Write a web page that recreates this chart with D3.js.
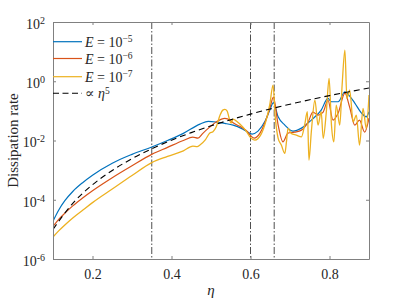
<!DOCTYPE html>
<html>
<head>
<meta charset="utf-8">
<script src="https://cdn.jsdelivr.net/npm/d3@7"></script>
<style>
  body { margin: 0; background: #fff; }
  text { font-family: "Liberation Serif", "DejaVu Serif", serif; fill: #262626; }
</style>
</head>
<body>
<div id="viz"></div>
<script>
// dissipation rate vs eta
var blueEta = [0.100, 0.115, 0.130, 0.150, 0.175, 0.200, 0.250, 0.300, 0.350, 0.390, 0.430, 0.472, 0.493, 0.514, 0.535, 0.556, 0.578, 0.591, 0.604, 0.619, 0.637, 0.649, 0.658, 0.670, 0.687, 0.708, 0.729, 0.754, 0.779, 0.796, 0.805, 0.822, 0.839, 0.851, 0.864, 0.881, 0.893, 0.900];
var blueVal = [1.9e-5, 4.62e-5, 9.28e-5, 1.9e-4, 3.77e-4, 6.72e-4, 1.71e-3, 3.4e-3, 6.04e-3, 1.0e-2, 0.0174, 0.0358, 0.0442, 0.0419, 0.0378, 0.0331, 0.0252, 0.020, 0.0165, 0.0208, 0.0452, 0.106, 0.19, 0.0632, 0.0331, 0.0208, 0.0262, 0.0489, 0.106, 0.264, 0.203, 0.203, 0.442, 0.316, 0.184, 0.0843, 0.0632, 0.0933];

var redEta = [0.100, 0.115, 0.130, 0.150, 0.175, 0.200, 0.250, 0.300, 0.350, 0.390, 0.430, 0.454, 0.467, 0.480, 0.493, 0.514, 0.535, 0.548, 0.556, 0.578, 0.591, 0.599, 0.609, 0.624, 0.639, 0.649, 0.658, 0.670, 0.682, 0.695, 0.712, 0.729, 0.746, 0.758, 0.771, 0.784, 0.796, 0.809, 0.822, 0.839, 0.851, 0.864, 0.876, 0.889, 0.900];
var redVal = [1.25e-5, 2.21e-5, 3.52e-5, 6.22e-5, 1.15e-4, 2.02e-4, 5.57e-4, 1.41e-3, 3.41e-3, 5.86e-3, 0.0100, 0.013, 0.012, 0.0178, 0.0256, 0.0428, 0.0558, 0.0489, 0.0396, 0.0277, 0.0208, 0.0152, 0.012, 0.0178, 0.0489, 0.124, 0.292, 0.0331, 9.0e-3, 0.0178, 0.0192, 0.0224, 0.0419, 0.091, 0.072, 0.091, 0.232, 0.0489, 0.0843, 0.40, 0.134, 0.0331, 0.0489, 0.0192, 0.0571];

var yellowEta = [0.100, 0.115, 0.130, 0.150, 0.175, 0.200, 0.250, 0.300, 0.350, 0.390, 0.430, 0.454, 0.465, 0.472, 0.485, 0.497, 0.505, 0.513, 0.523, 0.530, 0.535, 0.541, 0.546, 0.551, 0.556, 0.561, 0.573, 0.589, 0.599, 0.611, 0.627, 0.639, 0.649, 0.657, 0.663, 0.670, 0.678, 0.687, 0.691, 0.695, 0.703, 0.716, 0.729, 0.737, 0.744, 0.748, 0.754, 0.763, 0.771, 0.779, 0.784, 0.792, 0.799, 0.805, 0.811, 0.817, 0.826, 0.832, 0.839, 0.844, 0.851, 0.860, 0.868, 0.876, 0.885, 0.893, 0.900];
var yellowVal = [5.5e-6, 9.05e-6, 1.41e-5, 2.43e-5, 4.43e-5, 8.0e-5, 2.3e-4, 6.56e-4, 1.79e-3, 2.9e-3, 4.49e-3, 6.47e-3, 6.2e-3, 7.0e-3, 0.0103, 0.0178, 0.0197, 0.0284, 0.072, 0.106, 0.112, 0.0984, 0.0571, 0.0387, 0.0528, 0.0489, 0.0358, 0.0208, 0.013, 0.0103, 0.0164, 0.0452, 0.170, 0.745, 0.0558, 0.0118, 7.0e-3, 3.66e-3, 9.0e-3, 0.0256, 0.0174, 0.0152, 0.0133, 0.0331, 0.0933, 2.18e-3, 0.0197, 0.232, 0.0331, 0.0933, 0.0118, 0.0933, 1.25, 0.0331, 9.0e-3, 0.157, 0.0331, 0.745, 11.3, 0.264, 0.505, 0.0428, 0.072, 7.0e-3, 0.121, 0.0256, 0.342];

// reference slope line (proportional to eta^5)
var refEta = [0.10, 0.15, 0.20, 0.25, 0.30, 0.35, 0.40, 0.45, 0.50, 0.55, 0.60, 0.65, 0.70, 0.75, 0.80, 0.85, 0.90];
var refVal = [1.0e-5, 7.59e-5, 3.2e-4, 9.77e-4, 2.43e-3, 5.25e-3, 0.01024, 0.01845, 0.03125, 0.0503, 0.0778, 0.116, 0.168, 0.237, 0.328, 0.444, 0.590];

var markers = [0.35, 0.6, 0.66];
var xTicks = [0.2, 0.4, 0.6, 0.8];
var yTicks = [1e-6, 1e-4, 1e-2, 1e0, 1e2];
var yTickExp = ['-6', '-4', '-2', '0', '2'];

var legendLabels = ['-5', '-6', '-7'];
var colors = ['#0072BD', '#D95319', '#EDB120'];

var margin = {top: 22, right: 38, bottom: 46, left: 53},
    width = 407 - margin.left - margin.right,
    height = 305 - margin.top - margin.bottom;

var svg = d3.select('#viz').append('svg')
    .attr('width', 407)
    .attr('height', 305);

var g = svg.append('g')
    .attr('transform', 'translate(' + margin.left + ',' + margin.top + ')');

var xScale = d3.scaleLinear().domain([0.1, 0.9]).range([0, width]);
var yScale = d3.scaleLog().domain([1e-6, 1e2]).range([height, 0]);

g.append('clipPath').attr('id', 'clip')
  .append('rect').attr('width', width).attr('height', height);

var plot = g.append('g').attr('clip-path', 'url(#clip)');

// dash-dot markers
plot.selectAll('line.mark').data(markers)
  .enter().append('line')
    .attr('class', 'mark')
    .attr('x1', function(d) { return xScale(d); })
    .attr('x2', function(d) { return xScale(d); })
    .attr('y1', 0)
    .attr('y2', height)
    .attr('stroke', '#222')
    .attr('stroke-width', 0.8)
    .attr('stroke-dasharray', '7,2,1.5,2');

var line = d3.line()
    .x(function(d) { return xScale(d[0]); })
    .y(function(d) { return yScale(d[1]); })
    .curve(d3.curveMonotoneX);

var series = [
  d3.zip(blueEta, blueVal),
  d3.zip(redEta, redVal),
  d3.zip(yellowEta, yellowVal)
];

plot.selectAll('path.series').data(series)
  .enter().append('path')
    .attr('class', 'series')
    .attr('d', line)
    .attr('fill', 'none')
    .attr('stroke', function(d, i) { return colors[i]; })
    .attr('stroke-width', function(d, i) { return i == 2 ? 1.3 : 1.2; });

plot.append('path')
    .attr('d', line(d3.zip(refEta, refVal)))
    .attr('fill', 'none')
    .attr('stroke', '#000')
    .attr('stroke-width', 1.1)
    .attr('stroke-dasharray', '6,4');

// axes, ticks pointing in
var xAxisB = d3.axisBottom(xScale).tickValues(xTicks).tickSizeInner(-3).tickSizeOuter(0).tickPadding(10);
var xAxisT = d3.axisTop(xScale).tickValues(xTicks).tickSizeInner(-3).tickSizeOuter(0).tickFormat('');
var yAxisL = d3.axisLeft(yScale).tickValues(yTicks).tickSizeInner(-3).tickSizeOuter(0).tickPadding(8);
var yAxisR = d3.axisRight(yScale).tickValues(yTicks).tickSizeInner(-3).tickSizeOuter(0).tickFormat('');

var xGuide = g.append('g').attr('transform', 'translate(0,' + height + ')').call(xAxisB);
g.append('g').call(xAxisT);
var yGuide = g.append('g').call(yAxisL);
g.append('g').attr('transform', 'translate(' + width + ',0)').call(yAxisR);

g.selectAll('.domain').attr('stroke', '#808080');
g.selectAll('.tick line').attr('stroke', '#808080');
g.selectAll('.tick text').style('font-family', '"Liberation Serif", serif').style('font-size', '14px').attr('fill', '#262626');

yGuide.selectAll('.tick text').each(function(d, i) {
  var t = d3.select(this).text('').attr('dy', '0.45em');
  t.append('tspan').text('10');
  t.append('tspan').attr('dy', '-0.5em').style('font-size', '10px').text(yTickExp[i]);
});

// labels
svg.append('text')
    .attr('x', margin.left + xScale(0.5))
    .attr('y', 295)
    .attr('text-anchor', 'middle')
    .style('font-size', '15px')
    .style('font-style', 'italic')
    .text('η');

svg.append('text')
    .attr('transform', 'translate(18,' + (margin.top + height / 2) + ') rotate(-90)')
    .attr('text-anchor', 'middle')
    .style('font-size', '15px')
    .text('Dissipation rate');

// legend
var legend = g.append('g');
var legendY = [19.7, 36.5, 54.7, 71.3];

legendLabels.forEach(function(lab, i) {
  legend.append('line')
    .attr('x1', 0).attr('x2', 29)
    .attr('y1', legendY[i]).attr('y2', legendY[i])
    .attr('stroke', colors[i]).attr('stroke-width', 1.2);
  var t = legend.append('text')
    .attr('x', 32).attr('y', legendY[i] + 5)
    .style('font-size', '14px');
  t.append('tspan').style('font-style', 'italic').text('E');
  t.append('tspan').text(' = 10');
  t.append('tspan').attr('dy', '-0.5em').style('font-size', '9.5px').text(lab.replace('-', '\u2212'));
});

legend.append('line')
  .attr('x1', 0).attr('x2', 29)
  .attr('y1', legendY[3]).attr('y2', legendY[3])
  .attr('stroke', '#000').attr('stroke-width', 1.1)
  .attr('stroke-dasharray', '6,3.5');
var lt = legend.append('text')
  .attr('x', 32).attr('y', legendY[3] + 5)
  .style('font-size', '14px');
lt.append('tspan').text('\u221D ');
lt.append('tspan').style('font-style', 'italic').text('η');
lt.append('tspan').attr('dy', '-0.5em').style('font-size', '9.5px').text('5');
</script>
</body>
</html>
